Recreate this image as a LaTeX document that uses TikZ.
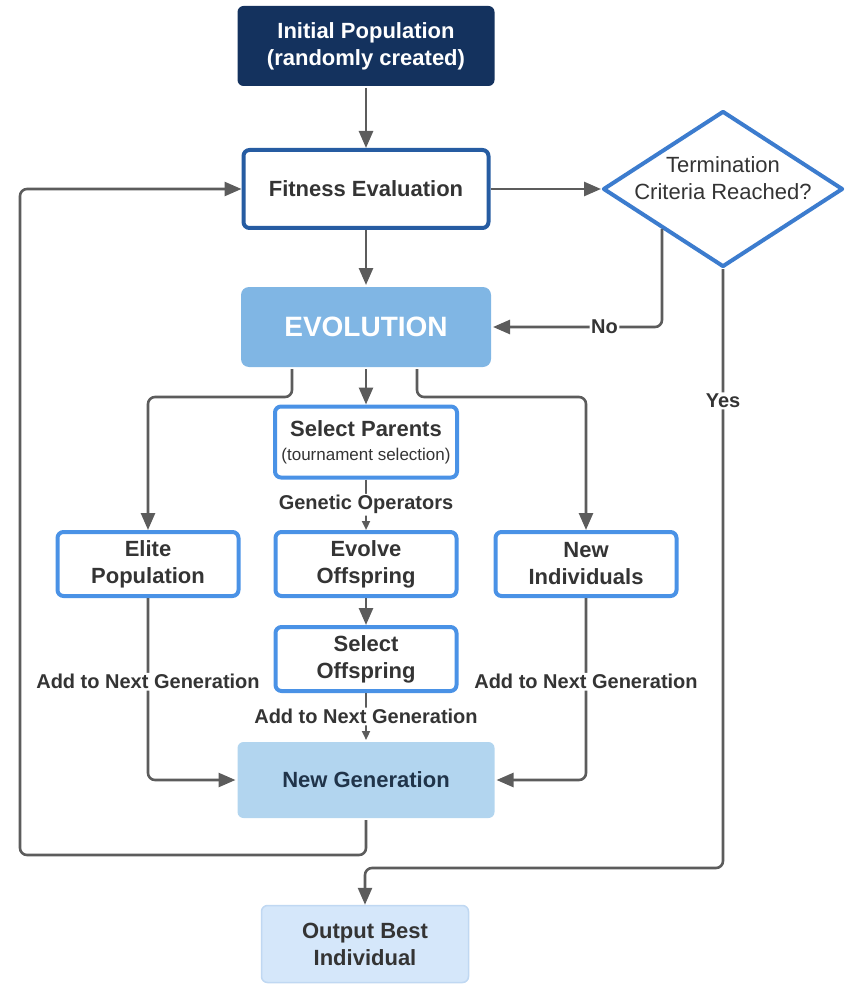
\documentclass[tikz,border=0pt]{standalone}
\usepackage{fontspec}
\setmainfont{Liberation Sans}
\usetikzlibrary{positioning,shapes.geometric,arrows.meta}
\definecolor{navyfill}{RGB}{20,50,94}
\definecolor{fitline}{RGB}{38,92,162}
\definecolor{diamline}{RGB}{60,124,206}
\definecolor{boxline}{RGB}{74,146,230}
\definecolor{evofill}{RGB}{128,182,228}
\definecolor{genfill}{RGB}{178,213,239}
\definecolor{genText}{RGB}{32,52,74}
\definecolor{outfill}{RGB}{213,231,250}
\definecolor{outline}{RGB}{192,216,242}
\definecolor{arrowgray}{RGB}{92,92,92}
\definecolor{txtgray}{RGB}{52,52,52}

\begin{document}
\begin{tikzpicture}[x=1pt, y=-1pt,
  font=\fontsize{22}{27}\selectfont\bfseries, text=txtgray,
  box/.style={draw=boxline, line width=4pt, rounded corners=6pt, fill=white, align=center, minimum width=181pt, minimum height=64pt, inner sep=2pt},
  startbox/.style={box, draw=none, fill=navyfill, text=white, minimum width=257pt, minimum height=80pt},
  fitbox/.style={box, draw=fitline, minimum width=245pt, minimum height=78pt},
  evobox/.style={box, draw=none, fill=evofill, text=white, minimum width=250pt, minimum height=80pt, rounded corners=8pt, font=\fontsize{28}{32}\selectfont\bfseries},
  genbox/.style={box, draw=none, fill=genfill, text=genText, minimum width=257pt, minimum height=76pt},
  outbox/.style={box, draw=outline, line width=1.5pt, fill=outfill, minimum width=207pt, minimum height=77pt},
  decision/.style={diamond, aspect=1.55, draw=diamline, line width=4pt, line join=round, fill=white, minimum width=240pt, minimum height=156pt, inner sep=0pt},
  qtext/.style={align=center, font=\fontsize{22}{27}\selectfont},
  arr/.style={-{Triangle[length=17pt,width=14pt]}, draw=arrowgray, line width=2.6pt, rounded corners=7pt},
  arrsmall/.style={arr, -{Triangle[length=9pt,width=8pt]}, line width=2.2pt},
  lab/.style={fill=white, inner sep=1.5pt, font=\fontsize{20}{24}\selectfont\bfseries}]

\useasboundingbox (0,0) rectangle (850,984);

\node[startbox] (init) at (366,46) {Initial Population\\(randomly created)};
\node[fitbox] (fit) at (366,189) {Fitness Evaluation};
\node[decision] (term) at (723,189) {};
\node[qtext] (termtxt) at (723,178) {Termination\\Criteria Reached?};
\node[evobox] (evo) at (366,327) {EVOLUTION};

% selection and the three branches
\node[box, minimum width=182pt, minimum height=71pt] (par) at (366,442) {Select Parents\\[-3pt]{\fontsize{17}{20}\selectfont\mdseries (tournament selection)}};
\node[box] (elite) at (148,564) {Elite\\Population};
\node[box] (evoff) at (366,564) {Evolve\\Offspring};
\node[box] (newind) at (586,564) {New\\Individuals};
\node[box] (selo) at (366,659) {Select\\Offspring};
\node[genbox] (newgen) at (366,780) {New Generation};
\node[outbox] (out) at (365,944) {Output Best\\Individual};

\coordinate (loopturn) at (20,855);
\coordinate (yesturn) at (723,868);

\draw[arr] (init) -- (fit);
\draw[arr] (fit) -- (term);
\draw[arr] (fit) -- (evo);
\draw[arr] (term.south west) |- node[lab, pos=0.67] {No} (evo.east);
\draw[arr] (term.south) -- node[lab, pos=0.22] {Yes} (yesturn) -| (out.north);
\draw[arr] (evo) -- (par);
\draw[arr] ([xshift=-74pt]evo.south) -- ++(0,28) -| (elite.north);
\draw[arr] ([xshift=51pt]evo.south) -- ++(0,28) -| (newind.north);
\draw[arrsmall] (par) -- node[lab] {Genetic Operators} (evoff);
\draw[arr] (evoff) -- (selo);
\draw[arrsmall] (selo) -- node[lab] {Add to Next Generation} (newgen);
\draw[arr] (elite.south) |- node[lab, pos=0.23] {Add to Next Generation} (newgen.west);
\draw[arr] (newind.south) |- node[lab, pos=0.23] {Add to Next Generation} (newgen.east);
\draw[arr] (newgen.south) |- (loopturn) |- (fit.west);
\end{tikzpicture}
\end{document}
